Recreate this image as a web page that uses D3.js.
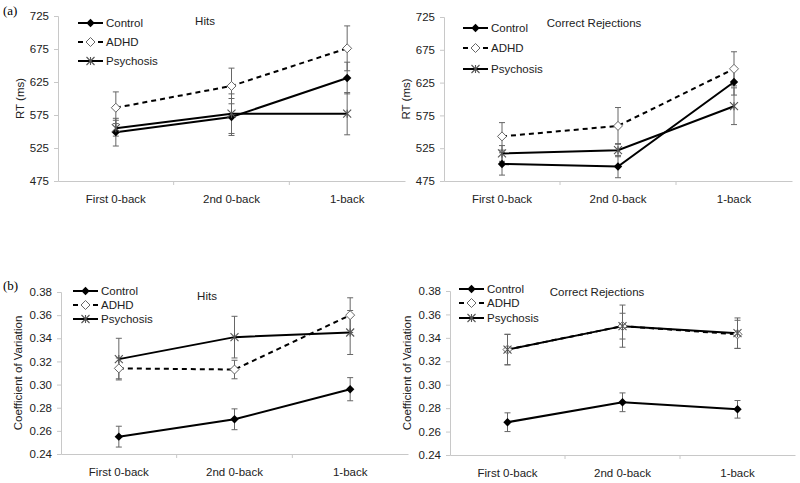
<!DOCTYPE html>
<html>
<head>
<meta charset="utf-8">
<script src="https://cdn.jsdelivr.net/npm/d3@7"></script>
<style>
  body { margin: 0; background: #fff; }
  svg { display: block; font-family: "Liberation Sans", Arial, sans-serif; }
</style>
</head>
<body>
<svg id="chart" width="800" height="483"></svg>
<script>
const categories = ["First 0-back", "2nd 0-back", "1-back"];
const groups = ["Control", "ADHD", "Psychosis"];

// RT (ms), hits
const rtHitsControl = [549, 572, 631];
const rtHitsAdhd = [586, 619, 676];
const rtHitsPsychosis = [555, 577, 577];
const rtHitsControlErr = [21, 28, 24];
const rtHitsAdhdErr = [24, 27, 34];
const rtHitsPsychosisErr = [12, 30, 32];

// RT (ms), correct rejections
const rtCrControl = [501, 497, 626];
const rtCrAdhd = [543, 559, 646];
const rtCrPsychosis = [517, 522, 589];
const rtCrControlErr = [17, 17, 20];
const rtCrAdhdErr = [21, 28, 26];
const rtCrPsychosisErr = [12, 10, 28];

// coefficient of variation, hits
const cvHitsControl = [0.255, 0.270, 0.296];
const cvHitsAdhd = [0.314, 0.313, 0.360];
const cvHitsPsychosis = [0.322, 0.341, 0.345];
const cvHitsControlErr = [0.009, 0.009, 0.010];
const cvHitsAdhdErr = [0.009, 0.008, 0.015];
const cvHitsPsychosisErr = [0.018, 0.018, 0.019];

// coefficient of variation, correct rejections
const cvCrControl = [0.268, 0.285, 0.279];
const cvCrAdhd = [0.330, 0.350, 0.343];
const cvCrPsychosis = [0.330, 0.350, 0.344];
const cvCrControlErr = [0.008, 0.008, 0.0075];
const cvCrAdhdErr = [0.013, 0.011, 0.012];
const cvCrPsychosisErr = [0.013, 0.018, 0.013];

const rtTicks = [475, 525, 575, 625, 675, 725];
const cvTicks = [0.24, 0.26, 0.28, 0.30, 0.32, 0.34, 0.36, 0.38];

const svg = d3.select("#chart");
const fs = "11.5px";

const panels = [
  { x0: 58, x1: 405, y0: 181, y1: 16, domain: [475, 725], ticks: rtTicks, fmt: d3.format("d"),
    ylabel: "RT (ms)", ylabelX: 20, title: "Hits", titleX: 205, titleY: 25,
    legX: 78, legY: [23, 42, 61],
    values: [rtHitsControl, rtHitsAdhd, rtHitsPsychosis], errs: [rtHitsControlErr, rtHitsAdhdErr, rtHitsPsychosisErr] },
  { x0: 444, x1: 792, y0: 181, y1: 17, domain: [475, 725], ticks: rtTicks, fmt: d3.format("d"),
    ylabel: "RT (ms)", ylabelX: 406, title: "Correct Rejections", titleX: 594, titleY: 27,
    legX: 463, legY: [28, 48, 69],
    values: [rtCrControl, rtCrAdhd, rtCrPsychosis], errs: [rtCrControlErr, rtCrAdhdErr, rtCrPsychosisErr] },
  { x0: 61, x1: 408, y0: 454, y1: 292, domain: [0.24, 0.38], ticks: cvTicks, fmt: d3.format(".2f"),
    ylabel: "Coefficient of Variation", ylabelX: 18, title: "Hits", titleX: 207, titleY: 300,
    legX: 73, legY: [291, 305, 319],
    values: [cvHitsControl, cvHitsAdhd, cvHitsPsychosis], errs: [cvHitsControlErr, cvHitsAdhdErr, cvHitsPsychosisErr] },
  { x0: 450, x1: 795, y0: 455, y1: 291, domain: [0.24, 0.38], ticks: cvTicks, fmt: d3.format(".2f"),
    ylabel: "Coefficient of Variation", ylabelX: 407, title: "Correct Rejections", titleX: 597, titleY: 296,
    legX: 459, legY: [289, 303, 318],
    values: [cvCrControl, cvCrAdhd, cvCrPsychosis], errs: [cvCrControlErr, cvCrAdhdErr, cvCrPsychosisErr] }
];

const axisColor = "#c8c8c8";
const textColor = "#222";
const errColor = "#666";

function drawMarker(g, group, cx, cy) {
  if (group === "Control") {
    const r = 4.2;
    g.append("path")
      .attr("d", `M${cx},${cy - r}L${cx + r},${cy}L${cx},${cy + r}L${cx - r},${cy}Z`)
      .attr("fill", "#000");
  } else if (group === "ADHD") {
    const r = 4.5;
    g.append("path")
      .attr("d", `M${cx},${cy - r}L${cx + r},${cy}L${cx},${cy + r}L${cx - r},${cy}Z`)
      .attr("fill", "#fff")
      .attr("stroke", "#666")
      .attr("stroke-width", 1);
  } else {
    const r = 4;
    g.append("path")
      .attr("d", `M${cx - r},${cy - r}L${cx + r},${cy + r}M${cx - r},${cy + r}L${cx + r},${cy - r}M${cx},${cy - r}L${cx},${cy + r}`)
      .attr("stroke", "#555")
      .attr("stroke-width", 1.1)
      .attr("fill", "none");
  }
}

const dashFor = g => g === "ADHD" ? "5,4" : null;

panels.forEach(p => {
  const g = svg.append("g");
  const x = d3.scaleBand().domain(categories).range([p.x0, p.x1]);
  const y = d3.scaleLinear().domain(p.domain).range([p.y0, p.y1]);
  const cxOf = c => x(c) + x.bandwidth() / 2;

  // y axis
  const yAxis = d3.axisLeft(y).tickValues(p.ticks).tickFormat(p.fmt).tickSize(4).tickPadding(5);
  const ya = g.append("g").attr("transform", `translate(${p.x0},0)`).call(yAxis);
  ya.select(".domain").attr("stroke", axisColor);
  ya.selectAll(".tick line").attr("stroke", axisColor);
  ya.selectAll(".tick text").attr("fill", textColor).style("font-size", fs);

  // x axis with ticks on category boundaries
  const xAxis = d3.axisBottom(x).tickSize(0).tickPadding(14);
  const xa = g.append("g").attr("transform", `translate(0,${p.y0})`).call(xAxis);
  xa.select(".domain").attr("stroke", axisColor);
  xa.selectAll(".tick text").attr("fill", textColor).style("font-size", fs);
  categories.forEach((c, i) => {
    if (i === 0) return;
    g.append("line")
      .attr("x1", x(c)).attr("x2", x(c))
      .attr("y1", p.y0).attr("y2", p.y0 + 4)
      .attr("stroke", axisColor);
  });

  // y label
  g.append("text")
    .attr("transform", `translate(${p.ylabelX},${(p.y0 + p.y1) / 2}) rotate(-90)`)
    .attr("text-anchor", "middle")
    .attr("dy", "0.35em")
    .attr("fill", textColor)
    .style("font-size", fs)
    .text(p.ylabel);

  // title
  g.append("text")
    .attr("x", p.titleX).attr("y", p.titleY)
    .attr("text-anchor", "middle")
    .attr("fill", textColor)
    .style("font-size", fs)
    .text(p.title);

  // error bars
  groups.forEach((grp, gi) => {
    p.values[gi].forEach((v, i) => {
      const cx = cxOf(categories[i]);
      const e = p.errs[gi][i];
      const eg = g.append("g").attr("stroke", errColor).attr("stroke-width", 1);
      eg.append("line").attr("x1", cx).attr("x2", cx).attr("y1", y(v - e)).attr("y2", y(v + e));
      eg.append("line").attr("x1", cx - 3).attr("x2", cx + 3).attr("y1", y(v - e)).attr("y2", y(v - e));
      eg.append("line").attr("x1", cx - 3).attr("x2", cx + 3).attr("y1", y(v + e)).attr("y2", y(v + e));
    });
  });

  // lines
  const line = d3.line().x((d, i) => cxOf(categories[i])).y(d => y(d));
  groups.forEach((grp, gi) => {
    g.append("path")
      .datum(p.values[gi])
      .attr("d", line)
      .attr("fill", "none")
      .attr("stroke", "#000")
      .attr("stroke-width", 2)
      .attr("stroke-dasharray", dashFor(grp));
  });

  // markers
  groups.forEach((grp, gi) => {
    p.values[gi].forEach((v, i) => drawMarker(g, grp, cxOf(categories[i]), y(v)));
  });

  // legend
  groups.forEach((grp, gi) => {
    const ly = p.legY[gi];
    const lg = g.append("g");
    if (grp === "ADHD") {
      lg.append("line").attr("x1", p.legX).attr("x2", p.legX + 5).attr("y1", ly).attr("y2", ly)
        .attr("stroke", "#000").attr("stroke-width", 2);
      lg.append("line").attr("x1", p.legX + 20).attr("x2", p.legX + 25).attr("y1", ly).attr("y2", ly)
        .attr("stroke", "#000").attr("stroke-width", 2);
    } else {
      lg.append("line").attr("x1", p.legX).attr("x2", p.legX + 25).attr("y1", ly).attr("y2", ly)
        .attr("stroke", "#000").attr("stroke-width", 2);
    }
    drawMarker(lg, grp, p.legX + 12.5, ly);
    lg.append("text")
      .attr("x", p.legX + 28).attr("y", ly)
      .attr("dy", "0.35em")
      .attr("fill", textColor)
      .style("font-size", fs)
      .text(grp);
  });
});

// panel labels
svg.append("text").attr("x", 3).attr("y", 15)
  .style("font-family", "'Liberation Serif', 'Times New Roman', serif").style("font-size", "13px").text("(a)");
svg.append("text").attr("x", 3).attr("y", 290)
  .style("font-family", "'Liberation Serif', 'Times New Roman', serif").style("font-size", "13px").text("(b)");
</script>
</body>
</html>
